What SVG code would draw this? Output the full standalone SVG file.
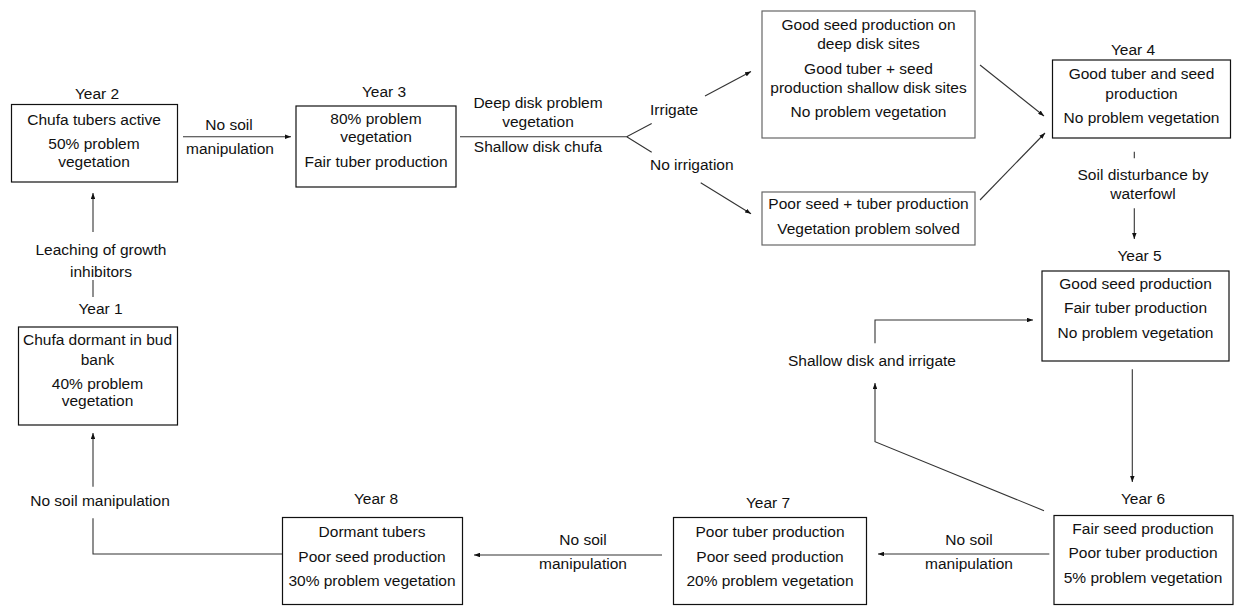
<svg xmlns="http://www.w3.org/2000/svg" width="1238" height="606" viewBox="0 0 1238 606">
<defs>
<marker id="ah" viewBox="0 0 8 6" refX="8" refY="3" markerWidth="6" markerHeight="4.5" orient="auto" markerUnits="userSpaceOnUse">
<path d="M0,0 L8,3 L0,6 Z" fill="#111"/>
</marker>
<style>
text{font-family:"Liberation Sans",Arial,sans-serif;font-size:15.5px;fill:#111;text-anchor:middle}
.lbl{text-anchor:start}
.box{fill:#fff;stroke:#111;stroke-width:1.2}
.gbox{fill:#fff;stroke:#666;stroke-width:1.2}
.ln{fill:none;stroke:#333;stroke-width:1.1}
.ar{fill:none;stroke:#333;stroke-width:1.1;marker-end:url(#ah)}
</style>
</defs>
<rect width="1238" height="606" fill="#fff"/>

<g id="connectors">
<!-- Year1 -> Year2 -->
<path class="ln" d="M93,297 V280"/>
<path class="ar" d="M93,232 V193"/>
<text x="101" y="255">Leaching of growth</text>
<text x="101" y="277">inhibitors</text>
<!-- Year2 -> Year3 -->
<path class="ar" d="M183,136.7 H291"/>
<text x="229" y="130">No soil</text>
<text x="230" y="154">manipulation</text>
<!-- Year3 branch -->
<path class="ln" d="M460,136.7 H626.7 L651.7,123.6 M626.7,136.7 L651.7,152.2"/>
<text x="538" y="108">Deep disk problem</text>
<text x="538" y="127">vegetation</text>
<text x="538" y="152">Shallow disk chufa</text>
<text class="lbl" x="650" y="115">Irrigate</text>
<text class="lbl" x="650" y="170">No irrigation</text>
<path class="ar" d="M705,96 L751,71.5"/>
<path class="ar" d="M700.7,182.7 L751,213.8"/>
<!-- to Year4 -->
<path class="ar" d="M980,65 L1044,116"/>
<path class="ar" d="M980,200 L1045,133"/>
<!-- Year4 -> Year5 -->
<path class="ln" d="M1134.3,151.7 V158.3"/>
<path class="ar" d="M1134.3,208.3 V239"/>
<text x="1143" y="180">Soil disturbance by</text>
<text x="1143" y="198.5">waterfowl</text>
<!-- Year5 -> Year6 -->
<path class="ar" d="M1132.3,369.3 V482"/>
<!-- Year6 -> Year5 loop -->
<path class="ar" d="M1044,510.7 L875,441.7 V383"/>
<path class="ar" d="M875,343.3 V320 H1033"/>
<text x="872" y="366">Shallow disk and irrigate</text>
<!-- Year6 -> Year7 -->
<path class="ar" d="M1049.3,554 H878"/>
<text x="969" y="544.5">No soil</text>
<text x="969" y="568.5">manipulation</text>
<!-- Year7 -> Year8 -->
<path class="ar" d="M662,555 H474"/>
<text x="583" y="545">No soil</text>
<text x="583" y="569">manipulation</text>
<!-- Year8 -> Year1 -->
<path class="ln" d="M282,554 H93 V518.3"/>
<path class="ar" d="M93,486.7 V433"/>
<text x="100" y="506">No soil manipulation</text>
</g>

<g id="year2">
<rect class="box" x="11.5" y="104.5" width="166" height="77.5"/>
<text x="97" y="98.5">Year 2</text>
<text x="94" y="124.5">Chufa tubers active</text>
<text x="94" y="148.5">50% problem</text>
<text x="94" y="167">vegetation</text>
</g>

<g id="year3">
<rect class="box" x="296" y="106" width="160" height="81"/>
<text x="384" y="97">Year 3</text>
<text x="376" y="123.5">80% problem</text>
<text x="376" y="142">vegetation</text>
<text x="376" y="167">Fair tuber production</text>
</g>

<g id="irrigated">
<rect class="gbox" x="762" y="11" width="213" height="127"/>
<text x="868.5" y="30">Good seed production on</text>
<text x="868.5" y="48.5">deep disk sites</text>
<text x="868.5" y="73.5">Good tuber + seed</text>
<text x="868.5" y="92.5">production shallow disk sites</text>
<text x="868.5" y="117">No problem vegetation</text>
</g>

<g id="not-irrigated">
<rect class="gbox" x="762" y="192" width="213" height="53"/>
<text x="868.5" y="209">Poor seed + tuber production</text>
<text x="868.5" y="233.5">Vegetation problem solved</text>
</g>

<g id="year4">
<rect class="box" x="1052.5" y="60" width="178" height="78"/>
<text x="1133" y="55">Year 4</text>
<text x="1141.5" y="78.5">Good tuber and seed</text>
<text x="1141.5" y="98.5">production</text>
<text x="1141.5" y="122.5">No problem vegetation</text>
</g>

<g id="year5">
<rect class="box" x="1042" y="271" width="187" height="90"/>
<text x="1139.5" y="261">Year 5</text>
<text x="1135.5" y="289">Good seed production</text>
<text x="1135.5" y="313">Fair tuber production</text>
<text x="1135.5" y="338">No problem vegetation</text>
</g>

<g id="year6">
<rect class="box" x="1054" y="515.5" width="179" height="89"/>
<text x="1143" y="503.5">Year 6</text>
<text x="1143" y="533.5">Fair seed production</text>
<text x="1143" y="558">Poor tuber production</text>
<text x="1143" y="583">5% problem vegetation</text>
</g>

<g id="year7">
<rect class="box" x="673.5" y="517.5" width="193" height="87"/>
<text x="768" y="507.5">Year 7</text>
<text x="770" y="537">Poor tuber production</text>
<text x="770" y="562">Poor seed production</text>
<text x="770" y="585.5">20% problem vegetation</text>
</g>

<g id="year8">
<rect class="box" x="282.5" y="517.5" width="180" height="87"/>
<text x="376" y="503.5">Year 8</text>
<text x="372" y="537">Dormant tubers</text>
<text x="372" y="562">Poor seed production</text>
<text x="372" y="585.5">30% problem vegetation</text>
</g>

<g id="year1">
<rect class="box" x="18.5" y="327" width="159" height="98"/>
<text x="100.5" y="314">Year 1</text>
<text x="97.5" y="344.5">Chufa dormant in bud</text>
<text x="97.5" y="364.5">bank</text>
<text x="97.5" y="388.5">40% problem</text>
<text x="97.5" y="406">vegetation</text>
</g>
</svg>
